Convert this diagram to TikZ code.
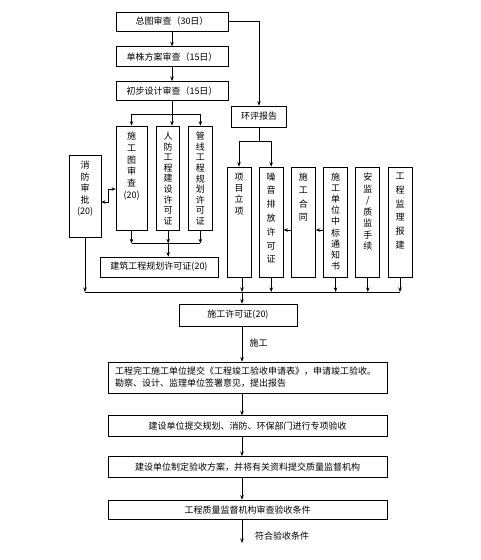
\documentclass[tikz,border=0pt]{standalone}
\usepackage{fontspec}
\newfontfamily\cjk{Noto Sans CJK SC}
\usetikzlibrary{positioning,arrows.meta,calc}

% vertical text in narrow boxes: height, line skip, text
\newcommand{\vtxt}[3]{\parbox[c][#1][t]{16pt}{\vspace*{6pt}\centering\fontsize{9}{#2}\selectfont #3}}

\begin{document}
\begin{tikzpicture}[x=1pt,y=-1pt,line width=0.7pt,
  box/.style={draw, inner sep=0pt, font=\cjk\fontsize{9}{12}\selectfont},
  arr/.style={-{Stealth[length=4.5pt,width=3.5pt]}},
  darr/.style={{Stealth[length=4pt,width=3.5pt]}-{Stealth[length=4pt,width=3.5pt]}},
  lbl/.style={font=\cjk\fontsize{9}{12}\selectfont, inner sep=0pt}]
\useasboundingbox (0,0) rectangle (481,560);

% approval chain
\node[box, minimum width=112pt, minimum height=19pt] (zt) at (172,21.5) {总图审查（30日）};
\node[box, minimum width=112pt, minimum height=20pt, below=15pt of zt] (dz) {单株方案审查（15日）};
\node[box, minimum width=112pt, minimum height=19pt, below=14pt of dz] (cb) {初步设计审查（15日）};
\node[box, minimum width=55pt, minimum height=21pt] (hp) at (259,116.5) {环评报告};

% permits under the design review
\node[box, minimum width=31pt, minimum height=104pt] (sgt) at (131.5,178) {\vtxt{104pt}{11.8pt}{施\\工\\图\\审\\查\\(20)}};
\node[box, minimum width=23pt, minimum height=104pt, right=9pt of sgt] (rf) {\vtxt{104pt}{10.6pt}{人\\防\\工\\程\\建\\设\\许\\可\\证}};
\node[box, minimum width=24pt, minimum height=104pt, right=8pt of rf] (gx) {\vtxt{104pt}{10.6pt}{管\\线\\工\\程\\规\\划\\许\\可\\证}};
\node[box, minimum width=32pt, minimum height=82pt] (xf) at (85,196) {\vtxt{82pt}{11.5pt}{消\\防\\审\\批\\(20)}};
\node[box, minimum width=118pt, minimum height=20pt] (jz) at (159,267) {建筑工程规划许可证(20)};

% documents for the construction permit
\node[box, minimum width=24pt, minimum height=110pt] (xm) at (239,222) {\vtxt{110pt}{11.3pt}{项\\目\\立\\项}};
\node[box, minimum width=24pt, minimum height=110pt, right=7.5pt of xm] (zy) {\vtxt{110pt}{13.8pt}{噪\\音\\排\\放\\许\\可\\证}};
\node[box, minimum width=24pt, minimum height=110pt, right=7.5pt of zy] (ht) {\vtxt{110pt}{13.3pt}{施\\工\\合\\同}};
\node[box, minimum width=24pt, minimum height=110pt, right=7.5pt of ht] (zb) {\vtxt{110pt}{11.1pt}{施\\工\\单\\位\\中\\标\\通\\知\\书}};
\node[box, minimum width=24pt, minimum height=110pt, right=7.5pt of zb] (aj) {\vtxt{110pt}{11.5pt}{安\\监\\/\\质\\监\\手\\续}};
\node[box, minimum width=24pt, minimum height=110pt, right=7.5pt of aj] (jl) {\vtxt{110pt}{13.8pt}{工\\程\\监\\理\\报\\建}};

% construction and acceptance
\node[box, minimum width=118pt, minimum height=22pt] (xk) at (238,315) {施工许可证(20)};
\node[box, minimum width=279pt, minimum height=31pt, text width=265pt, align=left] (wg) at (247.5,377.5)
  {工程完工施工单位提交《工程竣工验收申请表》，申请竣工验收。\\勘察、设计、监理单位签署意见，提出报告};
\node[box, minimum width=279pt, minimum height=21pt, below=22pt of wg] (zx) {建设单位提交规划、消防、环保部门进行专项验收};
\node[box, minimum width=279pt, minimum height=21pt, below=19pt of zx] (fa) {建设单位制定验收方案，并将有关资料提交质量监督机构};
\node[box, minimum width=279pt, minimum height=19pt, below=22pt of fa] (sc) {工程质量监督机构审查验收条件};
\node[lbl] (sg) at (258.5,343) {施工};
\node[lbl] (fh) at (282,536) {符合验收条件};

\coordinate (j2) at (242,292);
\coordinate (fin) at (242,543);
\coordinate (j5) at ($(rf.south)+(0,13)$);

\draw[arr] (zt) -- (dz);
\draw[arr] (dz) -- (cb);
\draw[arr] (zt.east) -| (hp.north);

\draw (cb.south) -- ++(0,14) coordinate (j4);
\draw[arr] (j4) -| (sgt.north);
\draw[arr] (j4) -| (gx.north);
\draw[arr] (j4) -- (j4 |- rf.north);
\draw (hp.south) -- ++(0,14) coordinate (j3);
\draw[arr] (j3) -| (xm.north);
\draw[arr] (j3) -| (zy.north);

\draw[darr] ([yshift=-6pt]xf.east) -- ++(7,0) |- ([yshift=-11pt]sgt.west);
\draw[arr] ([yshift=-8pt]ht.west) -- ([yshift=-8pt]zy.east);
\draw[arr] ([yshift=-8pt]zb.west) -- ([yshift=-8pt]ht.east);

\draw[arr] (sgt.south) -- (sgt.south |- j5);
\draw[arr] (gx.south) -- (gx.south |- j5);
\draw (sgt.south |- j5) -- (gx.south |- j5);
\draw[arr] (rf.south) -- (j5);
\draw[arr] (j5) -- (j5 |- jz.north);

\draw[arr] (xf.south) -- (xf.south |- j2);
\draw (xf.south |- j2) -- (jl.south |- j2);
\draw[arr] (xm.south -| j2) -- (j2);
\draw[arr] (zy.south) -- (zy.south |- j2);
\draw[arr] (zb.south) -- (zb.south |- j2);
\draw[arr] (aj.south) -- (aj.south |- j2);
\draw[arr] (jl.south) -- (jl.south |- j2);
\draw[arr] (j2) -- (j2 |- xk.north);

\draw[arr] (xk.south -| j2) -- (wg.north -| j2);
\draw[arr] (wg.south -| j2) -- (zx.north -| j2);
\draw[arr] (zx.south -| j2) -- (fa.north -| j2);
\draw[arr] (fa.south -| j2) -- (sc.north -| j2);
\draw[arr] (sc.south -| fin) -- (fin);
\end{tikzpicture}
\end{document}
